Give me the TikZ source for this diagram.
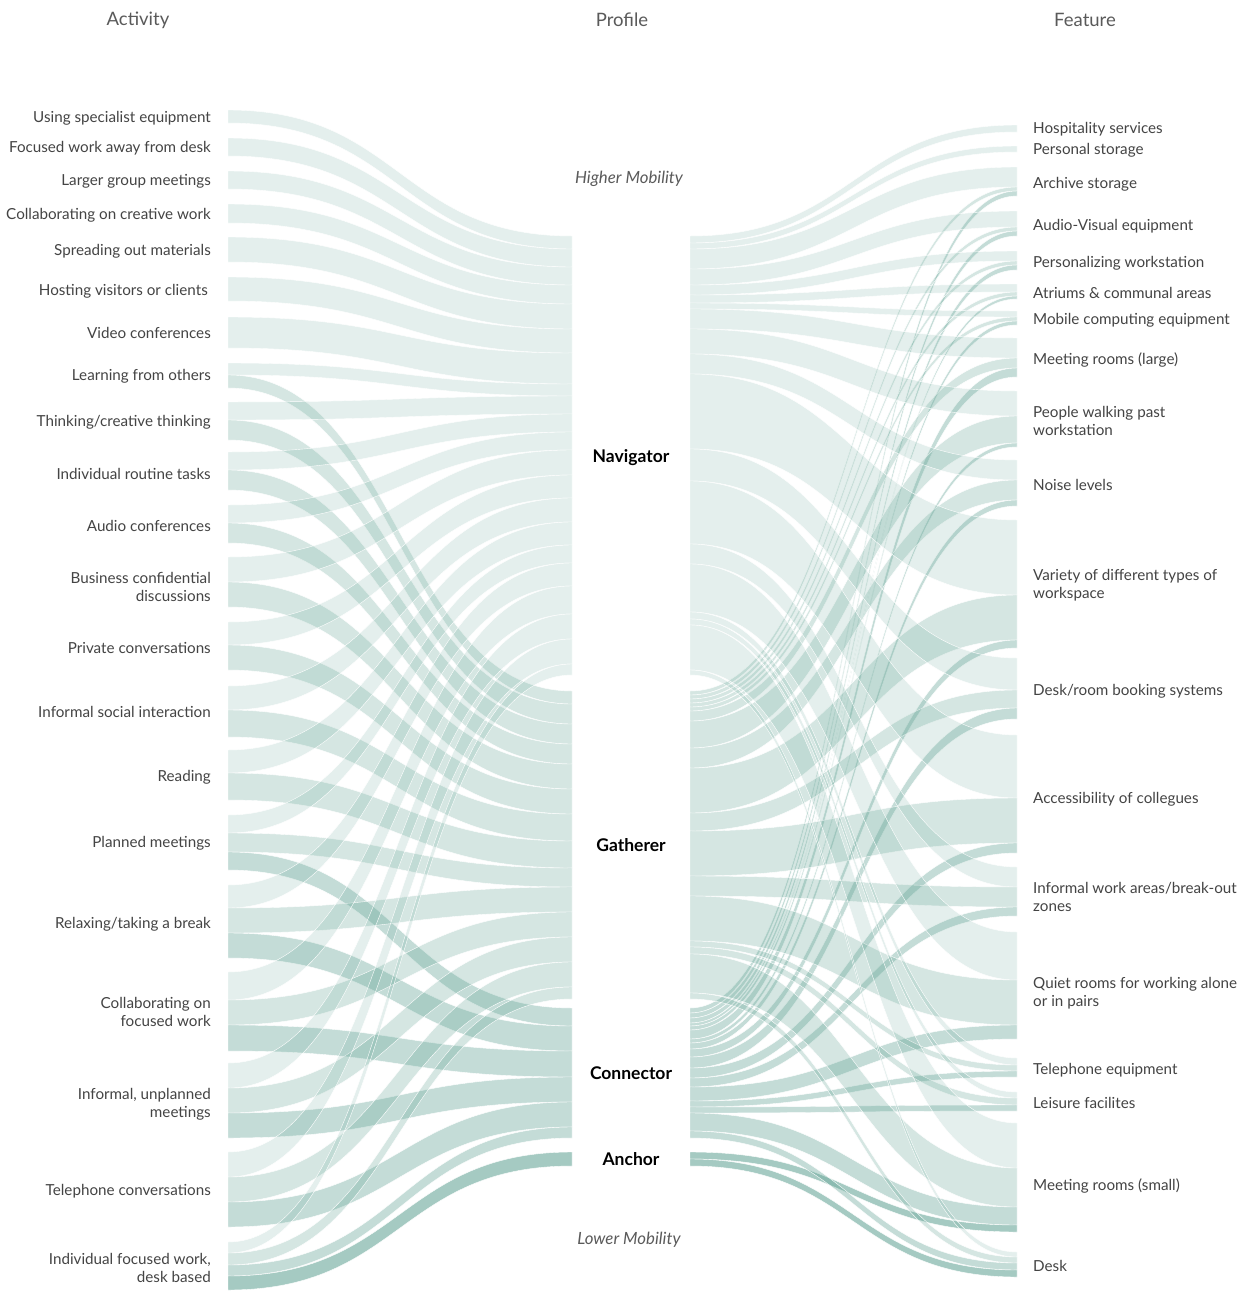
\documentclass[tikz,border=0pt]{standalone}
\usepackage{fontspec}
\setmainfont{Lato}
\definecolor{flowc}{RGB}{100,165,150}
\definecolor{txt}{RGB}{68,68,68}
\definecolor{ttl}{RGB}{90,90,90}

% running offsets of each node: fo = outgoing side, fi = incoming side
\newcommand\settop[2]{%
  \expandafter\xdef\csname fo@#1\endcsname{#2}%
  \expandafter\xdef\csname fi@#1\endcsname{#2}}
% ribbon from node #1 to node #2 of width #3, between x=#4 and x=#5
\newcommand\ribbon[6]{%
  \edef\rA{\csname fo@#1\endcsname}%
  \edef\rC{\csname fi@#2\endcsname}%
  \pgfmathsetmacro\rB{\rA+#3}%
  \pgfmathsetmacro\rD{\rC+#3}%
  \pgfmathsetmacro\rM{(#4+#5)/2}%
  \expandafter\xdef\csname fo@#1\endcsname{\rB}%
  \expandafter\xdef\csname fi@#2\endcsname{\rD}%
  \path[#6] (#4,\rA) .. controls (\rM,\rA) and (\rM,\rC) .. (#5,\rC)
    -- (#5,\rD) .. controls (\rM,\rD) and (\rM,\rB) .. (#4,\rB) -- cycle;}
\newcommand\lflow[4]{\ribbon{#1}{#2}{#3}{228}{572}{#4}}
\newcommand\rflow[4]{\ribbon{#1}{#2}{#3}{690}{1017}{#4}}

\begin{document}
\begin{tikzpicture}[x=1pt,y=-1pt,
  fbase/.style={fill=flowc, draw=white, line width=0.4pt},
  fnav/.style={fbase, fill opacity=0.17},
  fgat/.style={fbase, fill opacity=0.27},
  fcon/.style={fbase, fill opacity=0.38},
  fanc/.style={fbase, fill opacity=0.58},
  alab/.style={font=\fontsize{15.2}{18}\selectfont, text=txt, inner sep=0pt, anchor=east, align=right, yshift=-1pt},
  flab/.style={font=\fontsize{15.2}{18}\selectfont, text=txt, inner sep=0pt, anchor=west, align=left, yshift=-1pt},
  plab/.style={font=\fontsize{17.5}{20}\selectfont\bfseries, text=black, inner sep=0pt},
  mlab/.style={font=\fontsize{16.8}{20}\selectfont\itshape, text=ttl, inner sep=0pt},
  title/.style={font=\fontsize{18.5}{22}\selectfont, text=ttl, inner sep=0pt}]
\fill[white] (0,0) rectangle (1248,1291);
\useasboundingbox (0,0) rectangle (1248,1291);

% ---------- column titles ----------
\node[title] (tact) at (138,20) {Activity};
\node[title] (tpro) at (622,20) {Profile};
\node[title] (tfea) at (1085,20) {Feature};

% ---------- node tops ----------
\settop{a1}{110}\settop{a2}{138}\settop{a3}{171}\settop{a4}{204}
\settop{a5}{237}\settop{a6}{277}\settop{a7}{317}\settop{a8}{363}
\settop{a9}{402}\settop{a10}{452}\settop{a11}{505}\settop{a12}{557}
\settop{a13}{622}\settop{a14}{686}\settop{a15}{750}\settop{a16}{815}
\settop{a17}{885}\settop{a18}{972}\settop{a19}{1063}\settop{a20}{1152}
\settop{a21}{1242}
\settop{nav}{236}\settop{gat}{691}\settop{con}{1008}\settop{anc}{1152}
\settop{f1}{125}\settop{f2}{146}\settop{f3}{167}\settop{f4}{211}
\settop{f5}{251}\settop{f6}{284}\settop{f7}{311}\settop{f8}{338}
\settop{f9}{391}\settop{f10}{460}\settop{f11}{520}\settop{f12}{658}
\settop{f13}{735}\settop{f14}{867}\settop{f15}{932}\settop{f16}{1058}
\settop{f17}{1092}\settop{f18}{1123}\settop{f19}{1252}

% ---------- activity -> profile ----------
\lflow{a1}{nav}{13}{fnav}
\lflow{a2}{nav}{18}{fnav}
\lflow{a3}{nav}{18}{fnav}
\lflow{a4}{nav}{19}{fnav}
\lflow{a5}{nav}{25}{fnav}
\lflow{a6}{nav}{24}{fnav}
\lflow{a7}{nav}{31}{fnav}
\lflow{a8}{nav}{12}{fnav}\lflow{a8}{gat}{13}{fgat}
\lflow{a9}{nav}{18}{fnav}\lflow{a9}{gat}{20}{fgat}
\lflow{a10}{nav}{18}{fnav}\lflow{a10}{gat}{20}{fgat}
\lflow{a11}{nav}{18}{fnav}\lflow{a11}{gat}{20}{fgat}
\lflow{a12}{nav}{25}{fnav}\lflow{a12}{gat}{25}{fgat}
\lflow{a13}{nav}{23}{fnav}\lflow{a13}{gat}{25}{fgat}
\lflow{a14}{nav}{24}{fnav}\lflow{a14}{gat}{27}{fgat}
\lflow{a15}{nav}{23}{fnav}\lflow{a15}{gat}{27}{fgat}
\lflow{a16}{nav}{18}{fnav}\lflow{a16}{gat}{19}{fgat}\lflow{a16}{con}{18}{fcon}
\lflow{a17}{nav}{23}{fnav}\lflow{a17}{gat}{25}{fgat}\lflow{a17}{con}{25}{fcon}
\lflow{a18}{nav}{28}{fnav}\lflow{a18}{gat}{25}{fgat}\lflow{a18}{con}{26}{fcon}
\lflow{a19}{nav}{25}{fnav}\lflow{a19}{gat}{25}{fgat}\lflow{a19}{con}{25}{fcon}
\lflow{a20}{nav}{25}{fnav}\lflow{a20}{gat}{25}{fgat}\lflow{a20}{con}{25}{fcon}
\lflow{a21}{nav}{11}{fnav}\lflow{a21}{gat}{12}{fgat}\lflow{a21}{con}{11}{fcon}\lflow{a21}{anc}{14}{fanc}

% ---------- profile -> feature ----------
\rflow{nav}{f1}{7}{fnav}
\rflow{nav}{f2}{6}{fnav}
\rflow{nav}{f3}{20}{fnav}\rflow{gat}{f3}{4}{fgat}\rflow{con}{f3}{5}{fcon}
\rflow{nav}{f4}{16}{fnav}\rflow{gat}{f4}{4}{fgat}\rflow{con}{f4}{5}{fcon}
\rflow{nav}{f5}{10}{fnav}\rflow{gat}{f5}{4}{fgat}\rflow{con}{f5}{5}{fcon}
\rflow{nav}{f6}{8}{fnav}\rflow{gat}{f6}{4}{fgat}\rflow{con}{f6}{3}{fcon}
\rflow{nav}{f7}{6}{fnav}\rflow{gat}{f7}{4}{fgat}\rflow{con}{f7}{4}{fcon}
\rflow{nav}{f8}{20}{fnav}\rflow{gat}{f8}{10}{fgat}\rflow{con}{f8}{9}{fcon}
\rflow{nav}{f9}{25}{fnav}\rflow{gat}{f9}{27}{fgat}\rflow{con}{f9}{4}{fcon}
\rflow{nav}{f10}{20}{fnav}\rflow{gat}{f10}{20}{fgat}\rflow{con}{f10}{6}{fcon}
\rflow{nav}{f11}{75}{fnav}\rflow{gat}{f11}{45}{fgat}\rflow{con}{f11}{8}{fcon}
\rflow{nav}{f12}{32}{fnav}\rflow{gat}{f12}{18}{fgat}\rflow{con}{f12}{11}{fcon}
\rflow{nav}{f13}{63}{fnav}\rflow{gat}{f13}{45}{fgat}\rflow{con}{f13}{10}{fcon}
\rflow{nav}{f14}{20}{fnav}\rflow{gat}{f14}{20}{fgat}\rflow{con}{f14}{9}{fcon}
\rflow{nav}{f15}{48}{fnav}\rflow{gat}{f15}{45}{fgat}\rflow{con}{f15}{14}{fcon}
\rflow{nav}{f16}{7}{fnav}\rflow{gat}{f16}{6}{fgat}\rflow{con}{f16}{6}{fcon}
\rflow{nav}{f17}{6}{fnav}\rflow{gat}{f17}{7}{fgat}\rflow{con}{f17}{6}{fcon}
\rflow{nav}{f18}{45}{fnav}\rflow{gat}{f18}{39}{fgat}\rflow{con}{f18}{18}{fcon}\rflow{anc}{f18}{7}{fanc}
\rflow{nav}{f19}{5}{fnav}\rflow{gat}{f19}{6}{fgat}\rflow{con}{f19}{7}{fcon}\rflow{anc}{f19}{7}{fanc}

% ---------- activity labels ----------
\node[alab] (a1) at (211,117) {Using specialist equipment};
\node[alab] (a2) at (211,147) {Focused work away from desk};
\node[alab] (a3) at (211,180) {Larger group meetings};
\node[alab] (a4) at (211,214) {Collaborating on creative work};
\node[alab] (a5) at (211,250) {Spreading out materials};
\node[alab] (a6) at (208,290) {Hosting visitors or clients};
\node[alab] (a7) at (211,332) {Video conferences};
\node[alab] (a8) at (211,375) {Learning from others};
\node[alab] (a9) at (211,421) {Thinking/creative thinking};
\node[alab] (a10) at (211,473) {Individual routine tasks};
\node[alab] (a11) at (211,525) {Audio conferences};
\node[alab] (a12) at (211,586) {Business confidential\\discussions};
\node[alab] (a13) at (211,647) {Private conversations};
\node[alab] (a14) at (211,711) {Informal social interaction};
\node[alab] (a15) at (211,776) {Reading};
\node[alab] (a16) at (211,842) {Planned meetings};
\node[alab] (a17) at (211,923) {Relaxing/taking a break};
\node[alab] (a18) at (211,1011) {Collaborating on\\focused work};
\node[alab] (a19) at (211,1103) {Informal, unplanned\\meetings};
\node[alab] (a20) at (211,1190) {Telephone conversations};
\node[alab] (a21) at (211,1267) {Individual focused work,\\desk based};

% ---------- profile labels ----------
\node[mlab] (hi) at (629,179) {Higher Mobility};
\node[plab] (nav) at (631,458) {Navigator};
\node[plab] (gat) at (631,845) {Gatherer};
\node[plab] (con) at (631,1073) {Connector};
\node[plab] (anc) at (631,1159) {Anchor};
\node[mlab] (lo) at (629,1240) {Lower Mobility};

% ---------- feature labels ----------
\node[flab] (f1) at (1033,128) {Hospitality services};
\node[flab] (f2) at (1033,149) {Personal storage};
\node[flab] (f3) at (1033,183) {Archive storage};
\node[flab] (f4) at (1033,225) {Audio-Visual equipment};
\node[flab] (f5) at (1033,262) {Personalizing workstation};
\node[flab] (f6) at (1033,292) {Atriums \& communal areas};
\node[flab] (f7) at (1033,319) {Mobile computing equipment};
\node[flab] (f8) at (1033,359) {Meeting rooms (large)};
\node[flab] (f9) at (1033,420) {People walking past\\workstation};
\node[flab] (f10) at (1033,484) {Noise levels};
\node[flab] (f11) at (1033,584) {Variety of different types of\\workspace};
\node[flab] (f12) at (1033,690) {Desk/room booking systems};
\node[flab] (f13) at (1033,798) {Accessibility of collegues};
\node[flab] (f14) at (1033,896) {Informal work areas/break-out\\zones};
\node[flab] (f15) at (1033,992) {Quiet rooms for working alone\\or in pairs};
\node[flab] (f16) at (1033,1069) {Telephone equipment};
\node[flab] (f17) at (1033,1102) {Leisure facilites};
\node[flab] (f18) at (1033,1185) {Meeting rooms (small)};
\node[flab] (f19) at (1033,1265) {Desk};
\end{tikzpicture}
\end{document}
